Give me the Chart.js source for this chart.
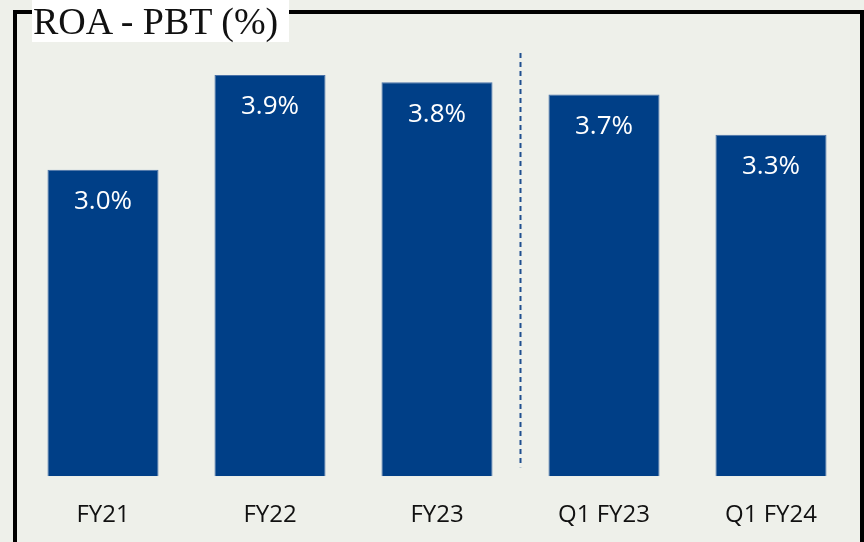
<!DOCTYPE html>
<html>
<head>
<meta charset="utf-8">
<script src="https://cdn.jsdelivr.net/npm/chart.js@4.4.1/dist/chart.umd.min.js"></script>
<style>
    html, body { margin: 0; padding: 0; }
    body { width: 864px; height: 542px; overflow: hidden; background: #eef0ea; }
    #wrap { position: relative; width: 864px; height: 542px; background: #eef0ea; }
    #frame { position: absolute; left: 13px; top: 10px; width: 843px; height: 560px; border: 4px solid #000; border-bottom: none; }
    #title { position: absolute; left: 32px; top: 0; width: 256px; height: 42px; padding-left: 1px; background: #fff;
             font-family: "Liberation Serif", serif; font-size: 38px; line-height: 42px; color: #111; white-space: nowrap; }
    #chartBox { position: absolute; left: 0; top: 0; width: 864px; height: 542px; }
</style>
</head>
<body>
<div id="wrap">
    <div id="frame"></div>
    <div id="chartBox"><canvas id="roaChart"></canvas></div>
    <div id="title">ROA - PBT (%)</div>
</div>
<script>
// Data
const categories = ['FY21', 'FY22', 'FY23', 'Q1 FY23', 'Q1 FY24'];
const roaValues = [2.97, 3.89, 3.82, 3.70, 3.31];
const roaLabels = ['3.0%', '3.9%', '3.8%', '3.7%', '3.3%'];

const BAR_COLOR = '#003f87';

// white value labels inside the top of each bar
const valueLabels = {
    id: 'valueLabels',
    afterDatasetsDraw(chart) {
        const ctx = chart.ctx;
        const meta = chart.getDatasetMeta(0);
        ctx.save();
        ctx.fillStyle = '#ffffff';
        ctx.font = '26px "Open Sans", "Noto Sans", sans-serif';
        ctx.textAlign = 'center';
        ctx.textBaseline = 'middle';
        meta.data.forEach((bar, i) => {
            ctx.fillText(roaLabels[i], bar.x, bar.y + 32);
        });
        ctx.restore();
    }
};

// dashed divider between annual and quarterly bars
const divider = {
    id: 'divider',
    afterDatasetsDraw(chart) {
        const ctx = chart.ctx;
        const x = chart.scales.x;
        const area = chart.chartArea;
        const px = (x.getPixelForValue(2) + x.getPixelForValue(3)) / 2;
        ctx.save();
        ctx.strokeStyle = '#1f4f8f';
        ctx.lineWidth = 2;
        ctx.setLineDash([5, 4]);
        ctx.beginPath();
        ctx.moveTo(px, area.top + 41);
        ctx.lineTo(px, area.bottom - 9);
        ctx.stroke();
        ctx.restore();
    }
};

new Chart(document.getElementById('roaChart'), {
    type: 'bar',
    data: {
        labels: categories,
        datasets: [{
            data: roaValues,
            backgroundColor: BAR_COLOR,
            borderColor: '#4a72a8',
            borderWidth: 1,
            categoryPercentage: 1,
            barPercentage: 0.665
        }]
    },
    options: {
        responsive: true,
        maintainAspectRatio: false,
        animation: false,
        layout: { padding: { left: 19.5, right: 9.5, top: 12, bottom: -5 } },
        plugins: { legend: { display: false }, tooltip: { enabled: false } },
        scales: {
            x: {
                grid: { display: false },
                border: { display: false },
                ticks: {
                    color: '#111111',
                    padding: 17,
                    font: { family: '"Open Sans", "Noto Sans", sans-serif', size: 24 }
                }
            },
            y: {
                display: false,
                min: 0,
                max: 4.5
            }
        }
    },
    plugins: [valueLabels, divider]
});
</script>
</body>
</html>
